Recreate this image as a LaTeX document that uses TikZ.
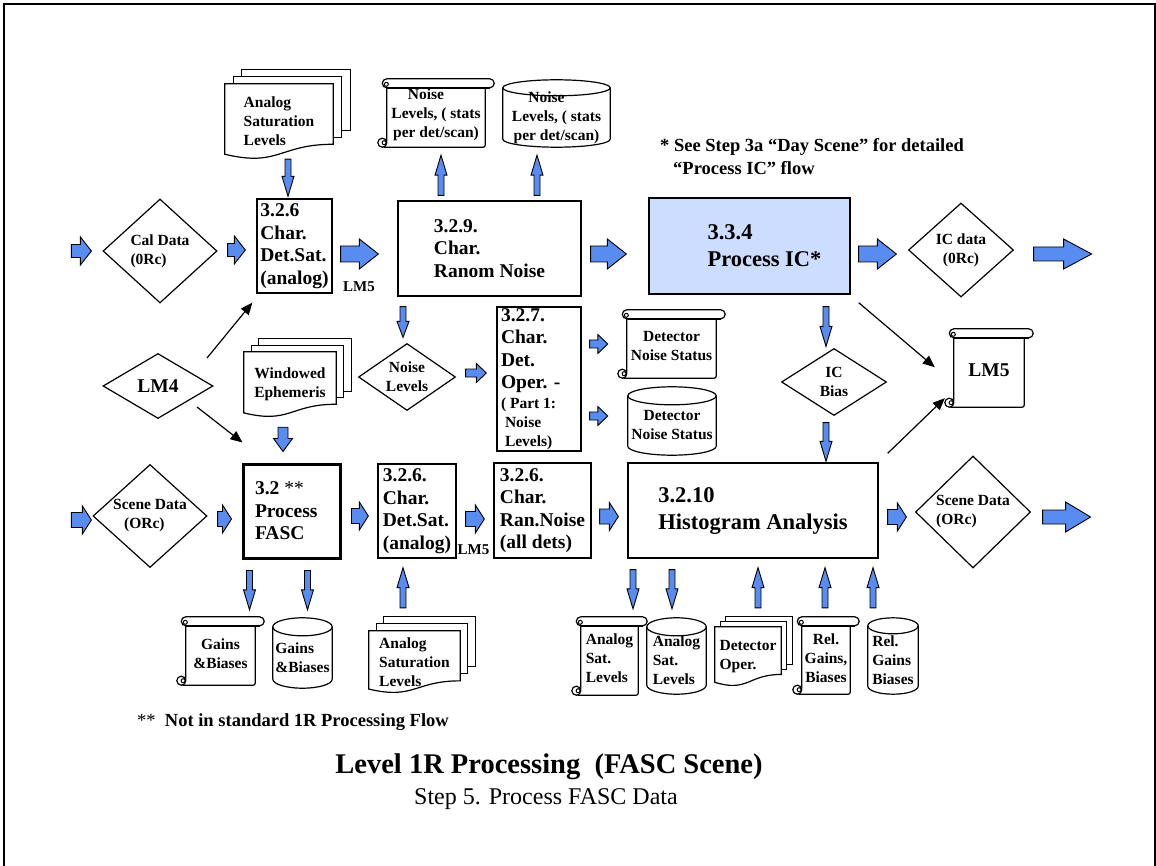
\documentclass[tikz,border=0pt]{standalone}
\usepackage{fontspec}
\setmainfont{Liberation Serif}
\usetikzlibrary{calc,shapes.geometric,arrows.meta}
\pgfdeclarelayer{background}
\pgfsetlayers{background,main}

\definecolor{flowblue}{RGB}{88,140,240}
\definecolor{icfill}{RGB}{204,221,255}

\newcommand\midbf{\fontsize{15.5}{19}\selectfont\bfseries}
\newcommand\boxbf{\fontsize{19.5}{22.5}\selectfont\bfseries}
\newcommand\bigbf{\fontsize{22.5}{27}\selectfont\bfseries}
\newcommand\smallbf{\fontsize{15.5}{22.5}\selectfont}

\tikzset{
  shapeline/.style={draw=black, line width=1.2pt, fill=white},
  procbox/.style={rectangle, draw, line width=1.3pt, fill=white, inner sep=0pt, align=left, font=\boxbf},
  decision/.style={diamond, draw, line width=1.2pt, fill=white, inner sep=0pt, align=center, font=\midbf},
  datanode/.style={rectangle, inner sep=0pt, align=center, font=\midbf},
  blk/.style={draw=black, line width=0.9pt, fill=flowblue},
  conn/.style={draw, line width=1.2pt, -{Triangle[length=12pt,width=10pt]}},
}

% block arrows between two points: shaft half width, head half width, head length
\newcommand\arrR[5]{\draw[blk] let \p1=#1, \p2=#2 in
  (\x1,\y1+#3) -- (\x2-#5,\y1+#3) -- (\x2-#5,\y1+#4) -- (\x2,\y1) --
  (\x2-#5,\y1-#4) -- (\x2-#5,\y1-#3) -- (\x1,\y1-#3) -- cycle;}
\newcommand\arrD[5]{\draw[blk] let \p1=#1, \p2=#2 in
  (\x1-#3,\y1) -- (\x1-#3,\y2+#5) -- (\x1-#4,\y2+#5) -- (\x1,\y2) --
  (\x1+#4,\y2+#5) -- (\x1+#3,\y2+#5) -- (\x1+#3,\y1) -- cycle;}
\newcommand\arrU[5]{\draw[blk] let \p1=#1, \p2=#2 in
  (\x1-#3,\y1) -- (\x1-#3,\y2-#5) -- (\x1-#4,\y2-#5) -- (\x1,\y2) --
  (\x1+#4,\y2-#5) -- (\x1+#3,\y2-#5) -- (\x1+#3,\y1) -- cycle;}

% vertical scroll around a node (node = body below the roll's centre line)
\newcommand\scrollfor[1]{%
  \draw[shapeline, rounded corners=2pt] let \p1=(#1.north west), \p2=(#1.south east) in
    (\x1+9pt,\y1) -- (\x1+9pt,\y2+4.5pt) -- (\x1+4.5pt,\y2) -- (\x2-9pt,\y2) -- (\x2-9pt,\y1) -- cycle;
  \draw[shapeline] let \p1=(#1.south west) in (\x1+4.5pt,\y1+4.5pt) circle[radius=4.5pt];
  \draw[line width=1pt] let \p1=(#1.south west) in (\x1+6.3pt,\y1+4.5pt) circle[radius=2pt];
  \draw[shapeline, rounded corners=4.5pt] let \p1=(#1.north west), \p2=(#1.north east) in
    (\x1+4.5pt,\y1+4.5pt) rectangle (\x2,\y1-4.5pt);
  \draw[line width=2pt] let \p1=(#1.north west), \p2=(#1.north east) in
    (\x1+9pt,\y1-4.5pt) -- (\x2-4.5pt,\y1-4.5pt);
  \draw[line width=1pt] let \p1=(#1.north west) in (\x1+8.5pt,\y1-1pt) circle[radius=2pt];
}
% cylinder around a node (node = body below the top ellipse centre)
\newcommand\cylfor[2]{%
  \draw[shapeline] let \p1=(#1.north west), \p2=(#1.south east), \n1={(\x2-\x1)/2} in
    (\x1,\y1) -- (\x1,\y2+#2) arc[start angle=180,end angle=360,x radius=\n1,y radius=#2]
    -- (\x2,\y1) arc[start angle=0,end angle=180,x radius=\n1,y radius=#2] -- cycle;
  \draw[line width=1.2pt] let \p1=(#1.north west), \p2=(#1.north east), \n1={(\x2-\x1)/2} in
    (\x1,\y1) arc[start angle=180,end angle=360,x radius=\n1,y radius=#2];
}
% stacked documents behind a node (node = front sheet); sheet offsets
\newcommand\docsfor[3]{%
  \draw[shapeline] let \p1=(#1.north west), \p2=(#1.south east), \n1={\y1-0.802*(\y1-\y2)} in
    (\x1+2*#2,\y1+2*#3) rectangle (\x2+2*#2,\n1+2*#3);
  \draw[shapeline] let \p1=(#1.north west), \p2=(#1.south east), \n1={\y1-0.802*(\y1-\y2)} in
    (\x1+#2,\y1+#3) rectangle (\x2+#2,\n1+#3);
  \draw[shapeline] let \p1=(#1.north west), \p2=(#1.south east), \n1={\y1-0.802*(\y1-\y2)},
    \n2={\y1-1.107*(\y1-\y2)}, \n3={\y1-0.934*(\y1-\y2)}, \n4={(\x1+\x2)/2} in
    (\x1,\y1) -- (\x2,\y1) -- (\x2,\n1) .. controls (\n4,\n1) and (\n4,\n2) .. (\x1,\n3) -- cycle;
}

\begin{document}
\begin{tikzpicture}[x=1pt,y=-1pt]
\useasboundingbox (0,0) rectangle (1156,866);
\draw[line width=2.5pt] (4,866) -- (4,4) -- (1155,4) -- (1155,866);

% ---- process boxes
\node[procbox, minimum width=75pt, minimum height=94pt] (det1) at (294.5,246) {3.2.6\\Char.\\Det.Sat.\\(analog)};
\node[procbox, minimum width=183pt, minimum height=95pt] (det2) at (489.5,248.5) {3.2.9.\\Char.\\Ranom Noise};
\node[procbox, fill=icfill, font=\bigbf, minimum width=201pt, minimum height=96pt] (procIC) at (749.5,246)
  {\hspace*{30pt}3.3.4\\\hspace*{30pt}Process IC*};
\node[procbox, align=flush left, text width=76pt, minimum width=84pt, minimum height=144pt] (det3) at (539,379)
  {3.2.7.\\Char.\\Det.\\Oper. -\\[-3pt]\smallbf ( Part 1:\\[-3.5pt]\hspace*{4pt}Noise\\[-3.5pt]\hspace*{4pt}Levels)};
\node[procbox, align=flush left, line width=3pt, text width=73pt, minimum width=97pt, minimum height=94pt] (procFASC) at (291.5,511)
  {3.2 {\mdseries **}\\Process\\FASC};
\node[procbox, minimum width=78pt, minimum height=94pt] (det4) at (417,511) {3.2.6.\\Char.\\Det.Sat.\\(analog)};
\node[procbox, minimum width=97pt, minimum height=95pt] (det5) at (542.5,510.5) {3.2.6.\\Char.\\Ran.Noise\\(all dets)};
\node[procbox, font=\bigbf, minimum width=250pt, minimum height=95pt] (hist) at (753,510.5) {3.2.10\\Histogram Analysis};

% ---- decisions
\node[decision, align=left, aspect=1.1, minimum width=114pt, minimum height=104pt] (cal) at (160,251) {Cal Data\\(0Rc)};
\node[decision, font=\fontsize{19.5}{22}\selectfont\bfseries, aspect=1.69, minimum width=110pt, minimum height=65pt] (lm4) at (158,386) {LM4};
\node[decision, aspect=1.45, minimum width=97pt, minimum height=67pt] (noiseDia) at (407,377) {Noise\\Levels};
\node[decision, aspect=1.57, minimum width=105pt, minimum height=67pt] (icBias) at (834,382) {IC\\Bias};
\node[decision, aspect=1.12, minimum width=105pt, minimum height=94pt] (icData) at (961,250) {IC data\\(0Rc)};
\node[decision, align=left, aspect=1.107, minimum width=114pt, minimum height=103pt] (sceneL) at (150,516) {Scene Data\\\hspace*{11pt}(ORc)};
\node[decision, align=left, aspect=1.03, minimum width=115pt, minimum height=112pt] (sceneR) at (973,512) {Scene Data\\(ORc)};

% ---- stored data: scrolls
\node[datanode, minimum width=116pt, minimum height=63.5pt] (noiseScroll) at (436,115.25) {Noise\hspace*{20pt}\\Levels, ( stats\\per det/scan)};
\node[datanode, minimum width=107pt, minimum height=63.5pt] (detScroll) at (671.5,346.25) {Detector\\Noise Status};
\node[datanode, font=\fontsize{19.5}{22}\selectfont\bfseries, minimum width=88pt, minimum height=73.5pt] (lm5Scroll) at (989,370.25) {LM5};
\node[datanode, minimum width=87pt, minimum height=63.5pt] (gainsScroll) at (220.5,653.25) {Gains\\\&Biases};
\node[datanode, align=left, minimum width=75pt, minimum height=73.5pt] (analogScroll) at (609.5,658.25) {Analog\\Sat.\\Levels};
\node[datanode, minimum width=66pt, minimum height=72.5pt] (relScroll) at (826,657.75) {Rel.\\Gains,\\Biases};

% ---- stored data: cylinders
\node[datanode, minimum width=107pt, minimum height=59pt] (noiseCyl) at (556.5,117.5) {Noise\hspace*{20pt}\\Levels, ( stats\\per det/scan)};
\node[datanode, minimum width=88pt, minimum height=59pt] (detCyl) at (672,425.5) {Detector\\Noise Status};
\node[datanode, align=left, minimum width=59pt, minimum height=61pt] (gainsCyl) at (302.5,657.5) {Gains\\\&Biases};
\node[datanode, align=left, minimum width=59pt, minimum height=67pt] (analogCyl) at (676.5,660.5) {Analog\\Sat.\\Levels};
\node[datanode, align=left, minimum width=50pt, minimum height=68pt] (relCyl) at (893,660) {Rel.\\Gains\\Biases};

% ---- stored data: stacked documents
\node[datanode, align=left, minimum width=108pt, minimum height=75pt] (analogTop) at (279,121.5) {Analog\\Saturation\\Levels};
\node[datanode, minimum width=92pt, minimum height=65pt] (ephem) at (290,384.5) {Windowed\\Ephemeris};
\node[datanode, align=left, minimum width=91pt, minimum height=62pt] (analogBot) at (414.5,662) {Analog\\Saturation\\Levels};
\node[datanode, align=left, minimum width=66pt, minimum height=59pt] (detOper) at (748,656.5) {Detector\\Oper.};

\begin{pgfonlayer}{background}
  \scrollfor{noiseScroll}
  \scrollfor{detScroll}
  \scrollfor{lm5Scroll}
  \scrollfor{gainsScroll}
  \scrollfor{analogScroll}
  \scrollfor{relScroll}
  \cylfor{noiseCyl}{8pt}
  \cylfor{detCyl}{9pt}
  \cylfor{gainsCyl}{9pt}
  \cylfor{analogCyl}{9pt}
  \cylfor{relCyl}{8pt}
  \docsfor{analogTop}{8.5pt}{7pt}
  \docsfor{ephem}{7.5pt}{6.5pt}
  \docsfor{analogBot}{7.5pt}{7pt}
  \docsfor{detOper}{5.5pt}{5pt}
\end{pgfonlayer}

% ---- labels and notes
\node[font=\fontsize{15}{18}\selectfont\bfseries] (lm5a) at (359,287) {LM5};
\node[font=\fontsize{15}{18}\selectfont\bfseries] (lm5b) at (473.5,550) {LM5};
\node[anchor=west, align=left, inner sep=0pt, font=\fontsize{18.5}{23}\selectfont\bfseries] (icNote) at (660,156.5)
  {* See Step 3a “Day Scene” for detailed\\\hspace*{13pt}“Process IC” flow};
\node[anchor=west, inner sep=0pt, font=\fontsize{18.5}{22}\selectfont\bfseries] (fascNote) at (137,722)
  {{\mdseries **}\ \ Not in standard 1R Processing Flow};
\node[font=\fontsize{28.5}{34}\selectfont\bfseries] (title) at (549,767) {Level 1R Processing\ \ (FASC Scene)};
\node[font=\fontsize{24}{29}\selectfont] (subtitle) at (546,799) {Step 5. Process FASC Data};

% ---- block arrows, top row
\arrR{([shift={(-31,0)}]cal.west)}{([shift={(-11,0)}]cal.west)}{6.5pt}{14pt}{11pt}
\arrR{([shift={(10,-1)}]cal.east)}{([shift={(-11,0)}]det1.west)}{6.5pt}{14pt}{11pt}
\arrR{([shift={(8,8)}]det1.east)}{([shift={(-19,0)}]det2.west)}{8pt}{15pt}{19pt}
\arrR{([shift={(9,5.5)}]det2.east)}{([shift={(-22,0)}]procIC.west)}{8pt}{15pt}{19pt}
\arrR{([shift={(8,8)}]procIC.east)}{([shift={(-11.5,0)}]icData.west)}{8pt}{15pt}{19pt}
\arrR{([shift={(19.5,4)}]icData.east)}{([shift={(77.5,0)}]icData.east)}{7pt}{15pt}{28pt}

% ---- block arrows, middle
\arrR{([shift={(9.5,-4)}]noiseDia.east)}{([shift={(-10,0)}]det3.west)}{4pt}{9.5pt}{10pt}
\arrR{([shift={(8,-35)}]det3.east)}{([shift={(-10,0)}]detScroll.west)}{4pt}{9.5pt}{10pt}
\arrR{([shift={(8,37)}]det3.east)}{([shift={(-20,0)}]detCyl.west)}{4pt}{9.5pt}{10pt}

% ---- block arrows, bottom row
\arrR{([shift={(-21,4)}]sceneL.west)}{([shift={(-1,0)}]sceneL.west)}{7.5pt}{14pt}{9pt}
\arrR{([shift={(10,3)}]sceneL.east)}{([shift={(-10,0)}]procFASC.west)}{7.5pt}{14pt}{9pt}
\arrR{([shift={(10,5)}]procFASC.east)}{([shift={(-9,0)}]det4.west)}{7.5pt}{14pt}{9pt}
\arrR{([shift={(9,8)}]det4.east)}{([shift={(-9,0)}]det5.west)}{7.5pt}{14pt}{9pt}
\arrR{([shift={(8,6)}]det5.east)}{([shift={(-9,0)}]hist.west)}{7.5pt}{14pt}{9pt}
\arrR{([shift={(9,6.5)}]hist.east)}{([shift={(-8.5,0)}]sceneR.west)}{7.5pt}{14pt}{9pt}
\arrR{([shift={(11.5,5)}]sceneR.east)}{([shift={(59.5,0)}]sceneR.east)}{7pt}{15pt}{25pt}

% ---- thin vertical arrows
\arrD{([shift={(9,0)}]analogTop.south)}{([shift={(-6.5,-2)}]det1.north)}{3pt}{6pt}{20pt}
\arrU{([shift={(-48.5,-5)}]det2.north)}{([shift={(5,8)}]noiseScroll.south)}{3pt}{6pt}{20pt}
\arrU{([shift={(47.5,-5)}]det2.north)}{([shift={(0,8)}]noiseCyl.south)}{3pt}{6pt}{20pt}
\arrD{([shift={(-86.5,10)}]det2.south)}{([shift={(0,-5.5)}]noiseDia.north)}{3pt}{6pt}{16pt}
\arrD{([shift={(76.5,12)}]procIC.south)}{([shift={(0,-1.5)}]icBias.north)}{3pt}{6pt}{20pt}
\arrD{([shift={(-8,6.5)}]icBias.south)}{([shift={(0,-1)}]hist.north)}{3pt}{6pt}{20pt}
\arrD{([shift={(-7,10)}]ephem.south)}{([shift={(0,-11)}]procFASC.north)}{5pt}{9.5pt}{13pt}
\arrD{([shift={(-42,11)}]procFASC.south)}{([shift={(0,-11.5)}]gainsScroll.north)}{3pt}{6pt}{20pt}
\arrD{([shift={(16,11)}]procFASC.south)}{([shift={(0,-17)}]gainsCyl.north)}{3pt}{6pt}{20pt}
\arrU{([shift={(-11.5,-23)}]analogBot.north)}{([shift={(-14,9)}]det4.south)}{3pt}{6pt}{20pt}
\arrD{([shift={(-120,11)}]hist.south)}{([shift={(0,-12.5)}]analogScroll.north)}{3pt}{6pt}{20pt}
\arrD{([shift={(-81,11)}]hist.south)}{([shift={(0,-18)}]analogCyl.north)}{3pt}{6pt}{20pt}
\arrU{([shift={(10,-19)}]detOper.north)}{([shift={(5,9)}]hist.south)}{3pt}{6pt}{20pt}
\arrU{([shift={(-1,-13.5)}]relScroll.north)}{([shift={(72,9)}]hist.south)}{3pt}{6pt}{20pt}
\arrU{([shift={(-20,-18)}]relCyl.north)}{([shift={(120,9)}]hist.south)}{3pt}{6pt}{20pt}

% ---- thin black connectors
\draw[conn] ([shift={(49,-28)}]lm4.center) -- ([shift={(-4,9)}]det1.south west);
\draw[conn] ([shift={(39,21)}]lm4.center) -- ([shift={(1,-20)}]procFASC.north west);
\draw[conn] ([shift={(8,8)}]procIC.south east) -- ([shift={(-10,-3)}]lm5Scroll.west);
\draw[conn] ([shift={(9,-9)}]hist.north east) -- ([shift={(0,-9)}]lm5Scroll.south west);
\end{tikzpicture}
\end{document}
